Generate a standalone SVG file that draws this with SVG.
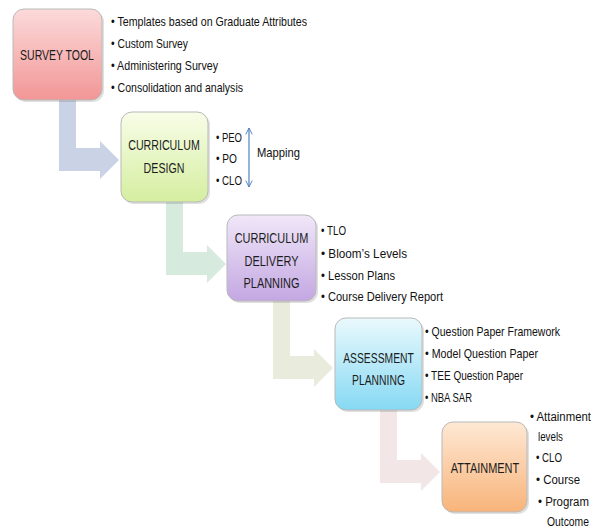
<svg xmlns="http://www.w3.org/2000/svg" width="597" height="529" viewBox="0 0 597 529">
<defs>
<linearGradient id="g1" x1="0" y1="0" x2="0" y2="1"><stop offset="0" stop-color="#fcdada"/><stop offset="1" stop-color="#f29696"/></linearGradient>
<linearGradient id="g2" x1="0" y1="0" x2="0" y2="1"><stop offset="0" stop-color="#f8fde8"/><stop offset="1" stop-color="#d5eea0"/></linearGradient>
<linearGradient id="g3" x1="0" y1="0" x2="0" y2="1"><stop offset="0" stop-color="#f0e7f8"/><stop offset="1" stop-color="#c3a7e2"/></linearGradient>
<linearGradient id="g4" x1="0" y1="0" x2="0" y2="1"><stop offset="0" stop-color="#eaf9fd"/><stop offset="1" stop-color="#86d9f3"/></linearGradient>
<linearGradient id="g5" x1="0" y1="0" x2="0" y2="1"><stop offset="0" stop-color="#fee8d4"/><stop offset="1" stop-color="#f8b47a"/></linearGradient>
<marker id="chev" viewBox="0 0 10 10" refX="9" refY="5" markerWidth="8" markerHeight="8" orient="auto-start-reverse" markerUnits="userSpaceOnUse"><path d="M1,1 L9,5 L1,9" fill="none" stroke="#4f81bd" stroke-width="1.2"/></marker>
</defs>
<style>
.box{stroke:#b9b9b9;stroke-width:1}
.shadow{fill:#000;opacity:0.12}
.bt{font-family:"Liberation Sans",sans-serif;font-size:15px;fill:#1c1c1c;text-anchor:middle}
.t{font-family:"Liberation Sans Narrow","Liberation Sans",sans-serif;font-size:13px;fill:#111}
.s{font-size:12px}
.arr{stroke:none}
</style>
<g id="connectors">
<path class="arr" fill="#c9d3e5" d="M59,100 L76,100 L76,148 L100,148 L100,141 L119,160 L100,179 L100,171 L59,171 Z"/>
<path class="arr" fill="#d6ebdd" d="M166,201 L183,201 L183,252 L207,252 L207,245 L226,264 L207,283 L207,275 L166,275 Z"/>
<path class="arr" fill="#e9ecdc" d="M273,299 L290,299 L290,356 L314,356 L314,349 L333,368 L314,387 L314,379 L273,379 Z"/>
<path class="arr" fill="#f2e6e6" d="M380,409 L397,409 L397,460 L421,460 L421,453 L440,472 L421,491 L421,483 L380,483 Z"/>
<line x1="249" y1="128" x2="249" y2="187" stroke="#4f81bd" stroke-width="1.2" marker-start="url(#chev)" marker-end="url(#chev)"/>
</g>
<g id="survey-tool">
<rect class="shadow" x="15" y="11" width="89" height="91" rx="11"/>
<rect class="box" x="13" y="9" width="89" height="91" rx="11" fill="url(#g1)"/>
<g transform="translate(57,0) scale(0.7,1)"><text class="bt" x="0" y="60">SURVEY TOOL</text></g>
</g>
<g id="survey-items">
<text class="t" x="111" y="26" textLength="196" lengthAdjust="spacingAndGlyphs">• Templates based on Graduate Attributes</text>
<text class="t" x="111" y="48" textLength="77" lengthAdjust="spacingAndGlyphs">• Custom Survey</text>
<text class="t" x="111" y="70" textLength="107" lengthAdjust="spacingAndGlyphs">• Administering Survey</text>
<text class="t" x="111" y="92" textLength="132" lengthAdjust="spacingAndGlyphs">• Consolidation and analysis</text>
</g>
<g id="curriculum-design">
<rect class="shadow" x="123" y="114" width="87" height="90" rx="11"/>
<rect class="box" x="121" y="112" width="87" height="90" rx="11" fill="url(#g2)"/>
<g transform="translate(164,0) scale(0.71,1)">
<text class="bt" x="0" y="150">CURRICULUM</text>
<text class="bt" x="0" y="173">DESIGN</text>
</g>
</g>
<g id="design-items">
<text class="t" x="216" y="142" textLength="26" lengthAdjust="spacingAndGlyphs">• PEO</text>
<text class="t" x="216" y="163" textLength="21" lengthAdjust="spacingAndGlyphs">• PO</text>
<text class="t" x="216" y="185" textLength="26" lengthAdjust="spacingAndGlyphs">• CLO</text>
<text class="t" x="257" y="157" textLength="43" lengthAdjust="spacingAndGlyphs">Mapping</text>
</g>
<g id="curriculum-delivery-planning">
<rect class="shadow" x="229" y="217" width="89" height="86" rx="11"/>
<rect class="box" x="227" y="215" width="89" height="86" rx="11" fill="url(#g3)"/>
<g transform="translate(271.5,0) scale(0.73,1)">
<text class="bt" x="0" y="243">CURRICULUM</text>
<text class="bt" x="0" y="266">DELIVERY</text>
<text class="bt" x="0" y="288">PLANNING</text>
</g>
</g>
<g id="delivery-items">
<text class="t" x="321" y="235" textLength="25" lengthAdjust="spacingAndGlyphs">• TLO</text>
<text class="t" x="321" y="258" textLength="86" lengthAdjust="spacingAndGlyphs">• Bloom’s Levels</text>
<text class="t" x="321" y="280" textLength="74" lengthAdjust="spacingAndGlyphs">• Lesson Plans</text>
<text class="t" x="321" y="301" textLength="122" lengthAdjust="spacingAndGlyphs">• Course Delivery Report</text>
</g>
<g id="assessment-planning">
<rect class="shadow" x="337" y="320" width="87" height="92" rx="11"/>
<rect class="box" x="335" y="318" width="87" height="92" rx="11" fill="url(#g4)"/>
<g transform="translate(378.5,0) scale(0.69,1)">
<text class="bt" x="0" y="363">ASSESSMENT</text>
<text class="bt" x="0" y="385">PLANNING</text>
</g>
</g>
<g id="assessment-items">
<text class="t" x="425" y="336" textLength="135" lengthAdjust="spacingAndGlyphs">• Question Paper Framework</text>
<text class="t" x="425" y="358" textLength="113" lengthAdjust="spacingAndGlyphs">• Model Question Paper</text>
<text class="t" x="425" y="380" textLength="98" lengthAdjust="spacingAndGlyphs">• TEE Question Paper</text>
<text class="t" x="425" y="402" textLength="47" lengthAdjust="spacingAndGlyphs">• NBA SAR</text>
</g>
<g id="attainment">
<rect class="shadow" x="444" y="424" width="85" height="90" rx="11"/>
<rect class="box" x="442" y="422" width="85" height="90" rx="11" fill="url(#g5)"/>
<g transform="translate(485,0) scale(0.73,1)"><text class="bt" x="0" y="473">ATTAINMENT</text></g>
</g>
<g id="attainment-items">
<text class="t s" x="530" y="421" textLength="61" lengthAdjust="spacingAndGlyphs">• Attainment</text>
<text class="t s" x="538" y="441" textLength="25" lengthAdjust="spacingAndGlyphs">levels</text>
<text class="t s" x="536" y="462" textLength="26" lengthAdjust="spacingAndGlyphs">• CLO</text>
<text class="t s" x="536" y="484" textLength="44" lengthAdjust="spacingAndGlyphs">• Course</text>
<text class="t s" x="538" y="506" textLength="51" lengthAdjust="spacingAndGlyphs">•  Program</text>
<text class="t s" x="547" y="526" textLength="42" lengthAdjust="spacingAndGlyphs">Outcome</text>
</g>
</svg>
